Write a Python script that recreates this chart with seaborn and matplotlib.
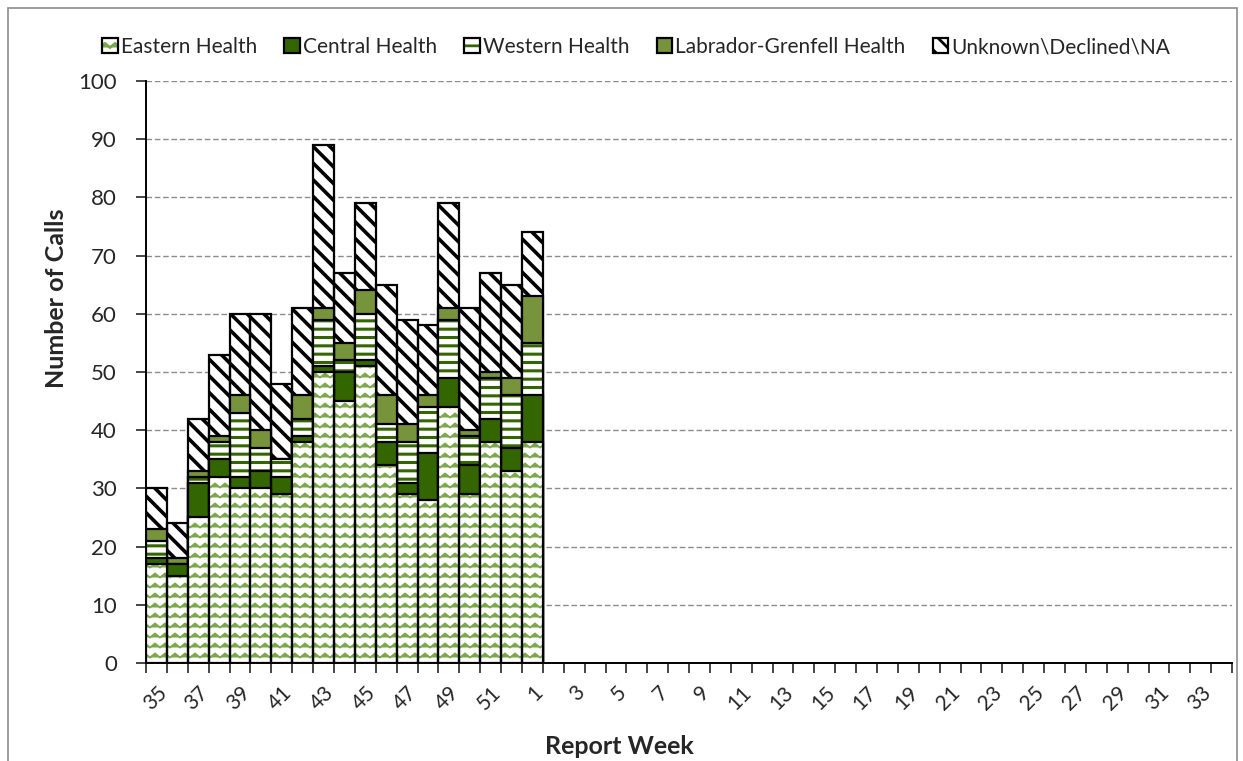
import warnings

import matplotlib
matplotlib.use("Agg")
import matplotlib.hatch as mhatch
import matplotlib.pyplot as plt
import numpy as np
import pandas as pd
import seaborn as sns
from matplotlib.legend_handler import HandlerTuple
from matplotlib.patches import Patch, Rectangle
from matplotlib.path import Path as MPath

warnings.filterwarnings("ignore")

# report weeks on the axis (35..52 then 1..34)
WEEKS = [str(w) for w in list(range(35, 53)) + list(range(1, 35))]
# weeks that have data
DATA_WEEKS = [str(w) for w in list(range(35, 53)) + [1]]

EASTERN = [17, 15, 25, 32, 30, 30, 29, 38, 50, 45, 51, 34, 29, 28, 44, 29, 38, 33, 38]
CENTRAL = [1, 2, 6, 3, 2, 3, 3, 1, 1, 5, 1, 4, 2, 8, 5, 5, 4, 4, 8]
WESTERN = [3, 0, 1, 3, 11, 4, 3, 3, 8, 2, 8, 3, 7, 8, 10, 5, 7, 9, 9]
LABRADOR = [2, 1, 1, 1, 3, 3, 0, 4, 2, 3, 4, 5, 3, 2, 2, 1, 1, 3, 8]
UNKNOWN = [7, 6, 9, 14, 14, 20, 13, 15, 28, 12, 15, 19, 18, 12, 18, 21, 17, 16, 11]

SERIES = [
    "Eastern Health",
    "Central Health",
    "Western Health",
    "Labrador-Grenfell Health",
    "Unknown\\Declined\\NA",
]

# face, hatch, hatch colour, hatch width
STYLES = {
    "Eastern Health": ("white", "zz", "#7aa84a", 1.3),
    "Central Health": ("#336600", None, "#336600", 1.0),
    "Western Health": ("white", "--", "#336600", 2.2),
    "Labrador-Grenfell Health": ("#77933c", None, "#77933c", 1.0),
    "Unknown\\Declined\\NA": ("white", "\\\\", "black", 2.6),
}


class ZigZagHatch(mhatch.HatchPatternBase):
    """Rows of small chevrons, used for the Eastern Health fill."""

    def __init__(self, hatch, density):
        self.num_rows = int(hatch.count("z") * density * 0.85)
        self.num_teeth = self.num_rows
        self.num_vertices = self.num_rows * (2 * self.num_teeth + 1)

    def set_vertices_and_codes(self, vertices, codes):
        n = self.num_rows
        if not n:
            return
        k = 2 * self.num_teeth + 1
        xs = np.linspace(0.0, 1.0, k)
        bump = np.tile([0.0, 1.0], self.num_teeth + 1)[:k] * 0.4 / n
        for r in range(n):
            y0 = (r + 0.25) / n
            vertices[r * k:(r + 1) * k, 0] = xs
            vertices[r * k:(r + 1) * k, 1] = y0 + bump
            codes[r * k] = MPath.MOVETO
            codes[r * k + 1:(r + 1) * k] = MPath.LINETO


mhatch._hatch_types.append(ZigZagHatch)


def style_patch(p, name):
    face, hatch, hcolor, hlw = STYLES[name]
    p.set_facecolor(face)
    p.set_edgecolor(hcolor)
    p.set_linewidth(0)
    if hatch:
        p.set_hatch(hatch)
        if hasattr(p, "set_hatch_linewidth"):
            p.set_hatch_linewidth(hlw)


def main():
    sns.set_style("white")
    plt.rcParams["font.family"] = ["Lato", "DejaVu Sans"]
    plt.rcParams["hatch.linewidth"] = 2.0

    df = pd.DataFrame(
        {
            "Week": DATA_WEEKS,
            SERIES[0]: EASTERN,
            SERIES[1]: CENTRAL,
            SERIES[2]: WESTERN,
            SERIES[3]: LABRADOR,
            SERIES[4]: UNKNOWN,
        }
    )
    cum = df[SERIES].cumsum(axis=1)
    cum["Week"] = df["Week"]

    fig, ax = plt.subplots(figsize=(12.43, 7.61), dpi=100)
    fig.subplots_adjust(left=0.1175, right=0.9912, top=0.8936, bottom=0.1288)

    # draw stacked totals from the top layer downward
    for name in reversed(SERIES):
        n0 = len(ax.patches)
        sns.barplot(data=cum, x="Week", y=name, order=WEEKS, color="white",
                    width=1.0, errorbar=None, ax=ax, linewidth=0)
        for p in ax.patches[n0:]:
            style_patch(p, name)
        sns.barplot(data=cum, x="Week", y=name, order=WEEKS, fill=False,
                    color="black", width=1.0, errorbar=None, ax=ax, linewidth=1.6)

    ax.set_xlim(-0.5, len(WEEKS) - 0.5)
    ax.set_ylim(0, 100)
    ax.set_yticks(range(0, 101, 10))
    ax.tick_params(axis="y", labelsize=16, length=7, width=1.2, pad=14, direction="out", left=True)
    ax.yaxis.grid(True, color="#8c8c8c", linestyle=(0, (4, 2)), linewidth=1.0)
    ax.xaxis.grid(False)
    ax.set_axisbelow(True)

    centers = list(range(0, len(WEEKS), 2))
    ax.set_xticks(centers)
    ax.set_xticklabels([WEEKS[i] for i in centers], rotation=45, ha="right",
                       va="top", rotation_mode="anchor", fontsize=15)
    ax.set_xticks(np.arange(-0.5, len(WEEKS)), minor=True)
    ax.tick_params(axis="x", which="major", length=0, pad=14)
    ax.tick_params(axis="x", which="minor", length=7, width=1.2, direction="out", bottom=True)

    for side in ["top", "right"]:
        ax.spines[side].set_visible(False)
    for side in ["left", "bottom"]:
        ax.spines[side].set_color("black")
        ax.spines[side].set_linewidth(1.4)

    ax.set_xlabel("Report Week", fontsize=18, fontweight="bold")
    ax.xaxis.set_label_coords(0.436, -0.123)
    ax.set_ylabel("Number of Calls", fontsize=18, fontweight="bold")
    ax.yaxis.set_label_coords(-0.072, 0.627)

    handles = []
    for name in SERIES:
        fill = Patch()
        style_patch(fill, name)
        outline = Patch(facecolor="none", edgecolor="black", linewidth=1.6)
        handles.append((fill, outline))
    fig.legend(
        handles,
        SERIES,
        handler_map={tuple: HandlerTuple(ndivide=1, pad=0)},
        loc="center",
        bbox_to_anchor=(0.512, 1 - 47 / 761),
        ncol=5,
        frameon=False,
        fontsize=15,
        handlelength=0.75,
        handleheight=0.75,
        handletextpad=0.15,
        columnspacing=1.3,
    )

    fig.patches.append(
        Rectangle((8 / 1243, -0.05), 1229 / 1243, 1.05 - 8 / 761, transform=fig.transFigure,
                  fill=False, edgecolor="#8c8c8c", linewidth=1.2)
    )

    fig.savefig("out.png", dpi=100)
    plt.close(fig)


if __name__ == "__main__":
    main()
